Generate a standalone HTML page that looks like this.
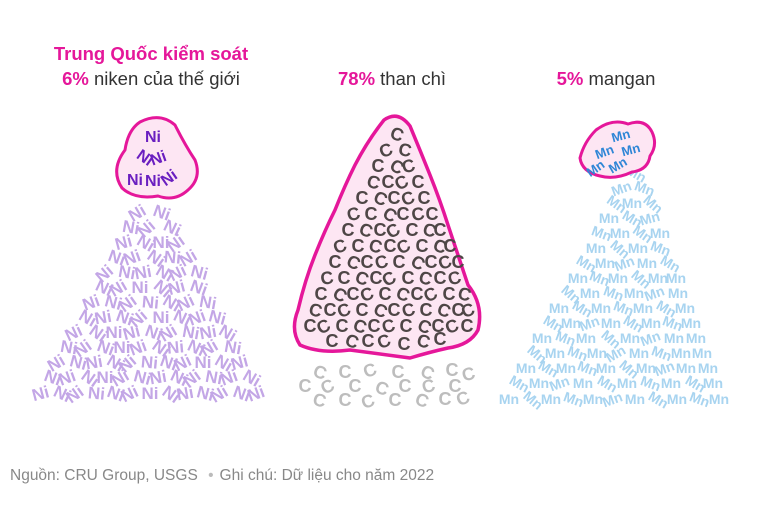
<!DOCTYPE html>
<html><head><meta charset="utf-8"><style>
body{margin:0;background:#fff;width:777px;height:504px;overflow:hidden;font-family:"Liberation Sans",sans-serif}
</style></head><body>
<svg width="777" height="504" viewBox="0 0 777 504" xmlns="http://www.w3.org/2000/svg" font-family="Liberation Sans, sans-serif">
<g font-size="18.5" text-anchor="middle">
<text x="151" y="60" font-weight="bold" fill="#e5179a">Trung Quốc kiểm soát</text>
<text x="151" y="85" fill="#333"><tspan font-weight="bold" fill="#e5179a">6%</tspan> niken của thế giới</text>
<text x="392" y="85" fill="#333"><tspan font-weight="bold" fill="#e5179a">78%</tspan> than chì</text>
<text x="606" y="85" fill="#333"><tspan font-weight="bold" fill="#e5179a">5%</tspan> mangan</text>
</g>
<!-- Ni pile -->
<g fill="#c3a6e6" font-weight="bold" font-size="17" text-anchor="middle">
<text x="140" y="218" transform="rotate(-30 140 218)">Ni</text><text x="160" y="218" transform="rotate(20 160 218)">Ni</text>
<text x="130" y="233" transform="rotate(10 130 233)">Ni</text><text x="150" y="233" transform="rotate(-40 150 233)">Ni</text><text x="170" y="233" transform="rotate(25 170 233)">Ni</text>
<text x="125" y="248" transform="rotate(-15 125 248)">Ni</text><text x="143" y="248" transform="rotate(30 143 248)">Ni</text><text x="161" y="248" transform="rotate(0 161 248)">Ni</text><text x="179" y="248" transform="rotate(-35 179 248)">Ni</text>
<text x="115" y="263" transform="rotate(20 115 263)">Ni</text><text x="134" y="263" transform="rotate(-20 134 263)">Ni</text><text x="153" y="263" transform="rotate(35 153 263)">Ni</text><text x="172" y="263" transform="rotate(5 172 263)">Ni</text><text x="191" y="263" transform="rotate(-30 191 263)">Ni</text>
<text x="108" y="278" transform="rotate(-40 108 278)">Ni</text><text x="126" y="278" transform="rotate(10 126 278)">Ni</text><text x="144" y="278" transform="rotate(-10 144 278)">Ni</text><text x="162" y="278" transform="rotate(30 162 278)">Ni</text><text x="180" y="278" transform="rotate(-25 180 278)">Ni</text><text x="198" y="278" transform="rotate(15 198 278)">Ni</text>
<text x="102" y="293" transform="rotate(25 102 293)">Ni</text><text x="121" y="293" transform="rotate(-30 121 293)">Ni</text><text x="140" y="293" transform="rotate(0 140 293)">Ni</text><text x="159" y="293" transform="rotate(40 159 293)">Ni</text><text x="178" y="293" transform="rotate(-15 178 293)">Ni</text><text x="197" y="293" transform="rotate(20 197 293)">Ni</text>
<text x="93" y="308" transform="rotate(-20 93 308)">Ni</text><text x="112" y="308" transform="rotate(15 112 308)">Ni</text><text x="131" y="308" transform="rotate(-35 131 308)">Ni</text><text x="150" y="308" transform="rotate(5 150 308)">Ni</text><text x="169" y="308" transform="rotate(30 169 308)">Ni</text><text x="188" y="308" transform="rotate(-25 188 308)">Ni</text><text x="207" y="308" transform="rotate(10 207 308)">Ni</text>
<text x="85" y="323" transform="rotate(30 85 323)">Ni</text><text x="104" y="323" transform="rotate(-10 104 323)">Ni</text><text x="123" y="323" transform="rotate(20 123 323)">Ni</text><text x="142" y="323" transform="rotate(-40 142 323)">Ni</text><text x="161" y="323" transform="rotate(0 161 323)">Ni</text><text x="180" y="323" transform="rotate(25 180 323)">Ni</text><text x="199" y="323" transform="rotate(-20 199 323)">Ni</text><text x="216" y="323" transform="rotate(15 216 323)">Ni</text>
<text x="76" y="338" transform="rotate(-25 76 338)">Ni</text><text x="95" y="338" transform="rotate(35 95 338)">Ni</text><text x="114" y="338" transform="rotate(0 114 338)">Ni</text><text x="133" y="338" transform="rotate(-15 133 338)">Ni</text><text x="152" y="338" transform="rotate(20 152 338)">Ni</text><text x="171" y="338" transform="rotate(-30 171 338)">Ni</text><text x="190" y="338" transform="rotate(10 190 338)">Ni</text><text x="209" y="338" transform="rotate(-10 209 338)">Ni</text><text x="225" y="338" transform="rotate(30 225 338)">Ni</text>
<text x="68" y="353" transform="rotate(10 68 353)">Ni</text><text x="86" y="353" transform="rotate(-35 86 353)">Ni</text><text x="104" y="353" transform="rotate(20 104 353)">Ni</text><text x="122" y="353" transform="rotate(0 122 353)">Ni</text><text x="140" y="353" transform="rotate(-20 140 353)">Ni</text><text x="158" y="353" transform="rotate(35 158 353)">Ni</text><text x="176" y="353" transform="rotate(-5 176 353)">Ni</text><text x="194" y="353" transform="rotate(25 194 353)">Ni</text><text x="212" y="353" transform="rotate(-30 212 353)">Ni</text><text x="232" y="353" transform="rotate(10 232 353)">Ni</text>
<text x="59" y="368" transform="rotate(-30 59 368)">Ni</text><text x="77" y="368" transform="rotate(15 77 368)">Ni</text><text x="95" y="368" transform="rotate(-10 95 368)">Ni</text><text x="113" y="368" transform="rotate(30 113 368)">Ni</text><text x="131" y="368" transform="rotate(-40 131 368)">Ni</text><text x="149" y="368" transform="rotate(5 149 368)">Ni</text><text x="167" y="368" transform="rotate(20 167 368)">Ni</text><text x="185" y="368" transform="rotate(-25 185 368)">Ni</text><text x="203" y="368" transform="rotate(0 203 368)">Ni</text><text x="221" y="368" transform="rotate(30 221 368)">Ni</text><text x="241" y="368" transform="rotate(-15 241 368)">Ni</text>
<text x="51" y="383" transform="rotate(20 51 383)">Ni</text><text x="69" y="383" transform="rotate(-20 69 383)">Ni</text><text x="87" y="383" transform="rotate(35 87 383)">Ni</text><text x="105" y="383" transform="rotate(0 105 383)">Ni</text><text x="123" y="383" transform="rotate(-30 123 383)">Ni</text><text x="141" y="383" transform="rotate(15 141 383)">Ni</text><text x="159" y="383" transform="rotate(-10 159 383)">Ni</text><text x="177" y="383" transform="rotate(25 177 383)">Ni</text><text x="195" y="383" transform="rotate(-35 195 383)">Ni</text><text x="213" y="383" transform="rotate(10 213 383)">Ni</text><text x="231" y="383" transform="rotate(-20 231 383)">Ni</text><text x="249" y="383" transform="rotate(30 249 383)">Ni</text>
<text x="42" y="399" transform="rotate(-15 42 399)">Ni</text><text x="60" y="399" transform="rotate(25 60 399)">Ni</text><text x="78" y="399" transform="rotate(-35 78 399)">Ni</text><text x="96" y="399" transform="rotate(5 96 399)">Ni</text><text x="114" y="399" transform="rotate(20 114 399)">Ni</text><text x="132" y="399" transform="rotate(-25 132 399)">Ni</text><text x="150" y="399" transform="rotate(0 150 399)">Ni</text><text x="168" y="399" transform="rotate(35 168 399)">Ni</text><text x="186" y="399" transform="rotate(-10 186 399)">Ni</text><text x="204" y="399" transform="rotate(15 204 399)">Ni</text><text x="222" y="399" transform="rotate(-30 222 399)">Ni</text><text x="240" y="399" transform="rotate(20 240 399)">Ni</text><text x="258" y="399" transform="rotate(-20 258 399)">Ni</text>
</g>
<path d="M140 122 Q160 112 175 125 Q185 145 195 160 Q202 178 188 190 Q175 202 158 196 Q135 200 122 188 Q110 170 125 150 Q128 130 140 122Z" fill="#fde6f3" stroke="#e5179a" stroke-width="3" stroke-linejoin="round"/>
<g fill="#6a1fc0" font-weight="bold" font-size="16" text-anchor="middle">
<text x="153" y="142">Ni</text>
<text x="142" y="162" transform="rotate(35 142 162)">Ni</text>
<text x="160" y="163" transform="rotate(-20 160 163)">Ni</text>
<text x="135" y="185">Ni</text>
<text x="153" y="186">Ni</text>
<text x="172" y="182" transform="rotate(-35 172 182)">Ni</text>
</g>
<!-- C pile -->
<path d="M384 120 Q398 110 410 126 Q420 150 430 175 Q440 200 448 225 Q458 255 468 285 Q484 305 478 330 Q470 345 448 348 Q430 352 410 358 Q380 354 350 350 Q320 354 300 345 Q290 330 298 310 Q305 280 315 255 Q325 230 335 210 Q345 185 355 165 Q368 140 384 120Z" fill="#fde6f3" stroke="#e5179a" stroke-width="3.5" stroke-linejoin="round"/>
<g fill="#4e4646" font-weight="bold" font-size="18" text-anchor="middle">
<text x="395" y="140" transform="rotate(20 395 140)">C</text>
<text x="388" y="156" transform="rotate(-20 388 156)">C</text><text x="404" y="156" transform="rotate(10 404 156)">C</text>
<text x="378" y="172">C</text><text x="394" y="172" transform="rotate(30 394 172)">C</text><text x="410" y="172" transform="rotate(-15 410 172)">C</text>
<text x="372" y="188" transform="rotate(15 372 188)">C</text><text x="388" y="188">C</text><text x="404" y="188" transform="rotate(-25 404 188)">C</text><text x="418" y="188">C</text>
<text x="362" y="204">C</text><text x="378" y="204" transform="rotate(25 378 204)">C</text><text x="394" y="204">C</text><text x="410" y="204" transform="rotate(-20 410 204)">C</text><text x="424" y="204">C</text>
<text x="355" y="220" transform="rotate(-15 355 220)">C</text><text x="371" y="220">C</text><text x="387" y="220" transform="rotate(30 387 220)">C</text><text x="403" y="220">C</text><text x="419" y="220" transform="rotate(-10 419 220)">C</text><text x="432" y="220">C</text>
<text x="348" y="236">C</text><text x="364" y="236" transform="rotate(20 364 236)">C</text><text x="380" y="236">C</text><text x="396" y="236" transform="rotate(-30 396 236)">C</text><text x="412" y="236">C</text><text x="428" y="236" transform="rotate(15 428 236)">C</text><text x="440" y="236">C</text>
<text x="342" y="252" transform="rotate(-20 342 252)">C</text><text x="358" y="252">C</text><text x="374" y="252" transform="rotate(15 374 252)">C</text><text x="390" y="252">C</text><text x="406" y="252" transform="rotate(-25 406 252)">C</text><text x="422" y="252">C</text><text x="438" y="252" transform="rotate(20 438 252)">C</text><text x="450" y="252">C</text>
<text x="335" y="268">C</text><text x="351" y="268" transform="rotate(25 351 268)">C</text><text x="367" y="268">C</text><text x="383" y="268" transform="rotate(-15 383 268)">C</text><text x="399" y="268">C</text><text x="415" y="268" transform="rotate(30 415 268)">C</text><text x="431" y="268">C</text><text x="447" y="268" transform="rotate(-20 447 268)">C</text><text x="458" y="268">C</text>
<text x="328" y="284" transform="rotate(-10 328 284)">C</text><text x="344" y="284">C</text><text x="360" y="284" transform="rotate(20 360 284)">C</text><text x="376" y="284">C</text><text x="392" y="284" transform="rotate(-30 392 284)">C</text><text x="408" y="284">C</text><text x="424" y="284" transform="rotate(15 424 284)">C</text><text x="440" y="284">C</text><text x="456" y="284" transform="rotate(-15 456 284)">C</text>
<text x="321" y="300">C</text><text x="337" y="300" transform="rotate(30 337 300)">C</text><text x="353" y="300">C</text><text x="369" y="300" transform="rotate(-20 369 300)">C</text><text x="385" y="300">C</text><text x="401" y="300" transform="rotate(20 401 300)">C</text><text x="417" y="300">C</text><text x="433" y="300" transform="rotate(-25 433 300)">C</text><text x="449" y="300">C</text><text x="463" y="300" transform="rotate(15 463 300)">C</text>
<text x="314" y="316" transform="rotate(15 314 316)">C</text><text x="330" y="316">C</text><text x="346" y="316" transform="rotate(-20 346 316)">C</text><text x="362" y="316">C</text><text x="378" y="316" transform="rotate(25 378 316)">C</text><text x="394" y="316">C</text><text x="410" y="316" transform="rotate(-15 410 316)">C</text><text x="426" y="316">C</text><text x="442" y="316" transform="rotate(20 442 316)">C</text><text x="458" y="316">C</text><text x="470" y="316" transform="rotate(-20 470 316)">C</text>
<text x="310" y="332">C</text><text x="326" y="332" transform="rotate(-25 326 332)">C</text><text x="342" y="332">C</text><text x="358" y="332" transform="rotate(20 358 332)">C</text><text x="374" y="332">C</text><text x="390" y="332" transform="rotate(-15 390 332)">C</text><text x="406" y="332">C</text><text x="422" y="332" transform="rotate(25 422 332)">C</text><text x="438" y="332">C</text><text x="454" y="332" transform="rotate(-20 454 332)">C</text><text x="467" y="332">C</text>
<text x="332" y="347">C</text><text x="350" y="347" transform="rotate(20 350 347)">C</text><text x="368" y="347">C</text><text x="386" y="347" transform="rotate(-20 386 347)">C</text><text x="404" y="350">C</text><text x="422" y="347" transform="rotate(15 422 347)">C</text><text x="440" y="345">C</text>
</g>
<g fill="#bdbdbd" font-weight="bold" font-size="18" text-anchor="middle">
<text x="318" y="378" transform="rotate(20 318 378)">C</text><text x="345" y="378">C</text><text x="372" y="376" transform="rotate(-20 372 376)">C</text><text x="398" y="378">C</text><text x="425" y="378" transform="rotate(25 425 378)">C</text><text x="452" y="376">C</text><text x="470" y="380" transform="rotate(-15 470 380)">C</text>
<text x="305" y="392">C</text><text x="330" y="392" transform="rotate(-25 330 392)">C</text><text x="355" y="392">C</text><text x="380" y="394" transform="rotate(20 380 394)">C</text><text x="405" y="392">C</text><text x="430" y="392" transform="rotate(-15 430 392)">C</text><text x="455" y="392">C</text>
<text x="318" y="406" transform="rotate(15 318 406)">C</text><text x="345" y="406">C</text><text x="370" y="407" transform="rotate(-20 370 407)">C</text><text x="395" y="406">C</text><text x="420" y="406" transform="rotate(20 420 406)">C</text><text x="445" y="405">C</text><text x="465" y="404" transform="rotate(-20 465 404)">C</text>
</g>
<!-- Mn pile -->
<g fill="#a8d4f0" font-weight="bold" font-size="14" text-anchor="middle">
<text x="634" y="178" transform="rotate(30 634 178)">Mn</text>
<text x="623" y="193" transform="rotate(-20 623 193)">Mn</text><text x="643" y="193" transform="rotate(20 643 193)">Mn</text>
<text x="614" y="208" transform="rotate(35 614 208)">Mn</text><text x="632" y="208">Mn</text><text x="650" y="208" transform="rotate(40 650 208)">Mn</text>
<text x="609" y="223">Mn</text><text x="630" y="223" transform="rotate(30 630 223)">Mn</text><text x="651" y="223" transform="rotate(-15 651 223)">Mn</text>
<text x="600" y="238" transform="rotate(20 600 238)">Mn</text><text x="620" y="238">Mn</text><text x="640" y="238" transform="rotate(35 640 238)">Mn</text><text x="660" y="238">Mn</text>
<text x="596" y="253">Mn</text><text x="617" y="253" transform="rotate(40 617 253)">Mn</text><text x="638" y="253">Mn</text><text x="659" y="253" transform="rotate(20 659 253)">Mn</text>
<text x="584" y="268" transform="rotate(30 584 268)">Mn</text><text x="605" y="268">Mn</text><text x="626" y="268" transform="rotate(-20 626 268)">Mn</text><text x="647" y="268">Mn</text><text x="668" y="268" transform="rotate(30 668 268)">Mn</text>
<text x="578" y="283">Mn</text><text x="598" y="283" transform="rotate(20 598 283)">Mn</text><text x="618" y="283">Mn</text><text x="638" y="283" transform="rotate(40 638 283)">Mn</text><text x="658" y="283">Mn</text><text x="676" y="283">Mn</text>
<text x="568" y="298" transform="rotate(40 568 298)">Mn</text><text x="590" y="298">Mn</text><text x="612" y="298" transform="rotate(20 612 298)">Mn</text><text x="634" y="298">Mn</text><text x="656" y="298" transform="rotate(-20 656 298)">Mn</text><text x="678" y="298">Mn</text>
<text x="559" y="313">Mn</text><text x="580" y="313" transform="rotate(30 580 313)">Mn</text><text x="601" y="313">Mn</text><text x="622" y="313" transform="rotate(20 622 313)">Mn</text><text x="643" y="313">Mn</text><text x="664" y="313" transform="rotate(30 664 313)">Mn</text><text x="685" y="313">Mn</text>
<text x="551" y="328" transform="rotate(30 551 328)">Mn</text><text x="571" y="328">Mn</text><text x="591" y="328" transform="rotate(-20 591 328)">Mn</text><text x="611" y="328">Mn</text><text x="631" y="328" transform="rotate(30 631 328)">Mn</text><text x="651" y="328">Mn</text><text x="671" y="328" transform="rotate(20 671 328)">Mn</text><text x="691" y="328">Mn</text>
<text x="542" y="343">Mn</text><text x="564" y="343" transform="rotate(20 564 343)">Mn</text><text x="586" y="343">Mn</text><text x="608" y="343" transform="rotate(40 608 343)">Mn</text><text x="630" y="343">Mn</text><text x="652" y="343" transform="rotate(-20 652 343)">Mn</text><text x="674" y="343">Mn</text><text x="696" y="343">Mn</text>
<text x="534" y="358" transform="rotate(40 534 358)">Mn</text><text x="555" y="358">Mn</text><text x="576" y="358" transform="rotate(20 576 358)">Mn</text><text x="597" y="358">Mn</text><text x="618" y="358" transform="rotate(-30 618 358)">Mn</text><text x="639" y="358">Mn</text><text x="660" y="358" transform="rotate(20 660 358)">Mn</text><text x="681" y="358">Mn</text><text x="702" y="358">Mn</text>
<text x="526" y="373">Mn</text><text x="546" y="373" transform="rotate(30 546 373)">Mn</text><text x="566" y="373">Mn</text><text x="586" y="373" transform="rotate(20 586 373)">Mn</text><text x="606" y="373">Mn</text><text x="626" y="373" transform="rotate(40 626 373)">Mn</text><text x="646" y="373">Mn</text><text x="666" y="373" transform="rotate(-20 666 373)">Mn</text><text x="686" y="373">Mn</text><text x="708" y="373">Mn</text>
<text x="517" y="388" transform="rotate(30 517 388)">Mn</text><text x="539" y="388">Mn</text><text x="561" y="388" transform="rotate(-20 561 388)">Mn</text><text x="583" y="388">Mn</text><text x="605" y="388" transform="rotate(30 605 388)">Mn</text><text x="627" y="388">Mn</text><text x="649" y="388" transform="rotate(20 649 388)">Mn</text><text x="671" y="388">Mn</text><text x="693" y="388" transform="rotate(30 693 388)">Mn</text><text x="713" y="388">Mn</text>
<text x="509" y="404">Mn</text><text x="530" y="404" transform="rotate(40 530 404)">Mn</text><text x="551" y="404">Mn</text><text x="572" y="404" transform="rotate(20 572 404)">Mn</text><text x="593" y="404">Mn</text><text x="614" y="404" transform="rotate(-20 614 404)">Mn</text><text x="635" y="404">Mn</text><text x="656" y="404" transform="rotate(30 656 404)">Mn</text><text x="677" y="404">Mn</text><text x="698" y="404" transform="rotate(20 698 404)">Mn</text><text x="719" y="404">Mn</text>
</g>
<path d="M596 130 Q612 118 628 124 Q645 118 652 132 Q658 145 650 156 Q648 170 632 172 Q615 180 600 176 Q582 172 580 158 Q584 142 596 130Z" fill="#fde6f3" stroke="#e5179a" stroke-width="3" stroke-linejoin="round"/>
<g fill="#2f86d6" font-weight="bold" font-size="13" text-anchor="middle">
<text x="622" y="140" transform="rotate(-15 622 140)">Mn</text>
<text x="606" y="156" transform="rotate(-20 606 156)">Mn</text>
<text x="632" y="154" transform="rotate(-15 632 154)">Mn</text>
<text x="598" y="172" transform="rotate(-35 598 172)">Mn</text>
<text x="620" y="169" transform="rotate(-30 620 169)">Mn</text>
</g>
<text x="10" y="480" font-size="15.5" fill="#888">Nguồn: CRU Group, USGS <tspan fill="#bbb" dx="6">•</tspan><tspan dx="6">Ghi chú: Dữ liệu cho năm 2022</tspan></text>
</svg>
</body></html>
